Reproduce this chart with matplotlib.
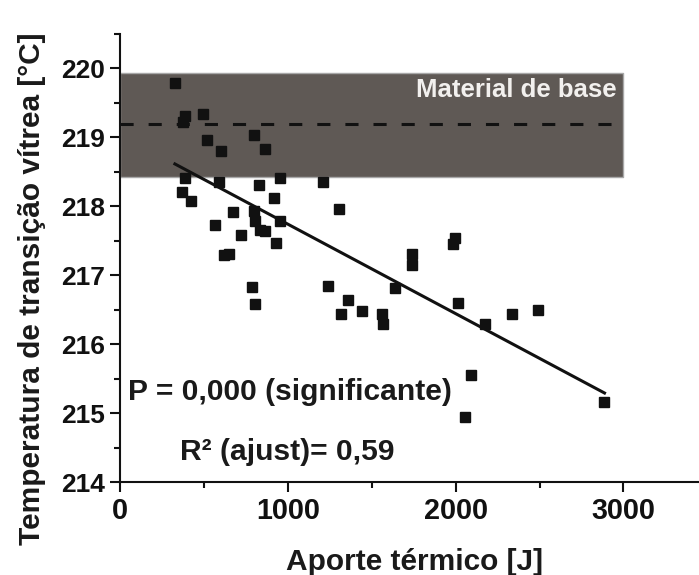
import matplotlib
matplotlib.use('Agg')
import matplotlib.pyplot as plt
from matplotlib.ticker import MultipleLocator

# data
aporte = [325, 387, 377, 496, 520, 599, 798, 865, 387, 589, 827, 954, 1210,
          371, 421, 919, 1306, 675, 800, 806, 956, 833, 861, 567, 722, 931,
          619, 650, 787, 804, 1242, 1317, 1357, 1444, 1559, 1569, 1641, 1742,
          1742, 1996, 1984, 2016, 2173, 2337, 2488, 2089, 2054, 2883]
tg = [219.78, 219.30, 219.22, 219.33, 218.95, 218.80, 219.03, 218.82, 218.40,
      218.35, 218.30, 218.41, 218.35, 218.21, 218.07, 218.12, 217.95, 217.91,
      217.93, 217.78, 217.78, 217.65, 217.64, 217.72, 217.58, 217.46, 217.29,
      217.30, 216.82, 216.58, 216.84, 216.43, 216.64, 216.48, 216.43, 216.29,
      216.81, 217.30, 217.15, 217.53, 217.45, 216.60, 216.29, 216.44, 216.50,
      215.55, 214.94, 215.16]

# regression line ends
fit_x = [327, 2887]
fit_y = [218.61, 215.29]

# base material band (min, mean, max) over the x range
base_x = [0, 3000]
base_min, base_mean, base_max = 218.42, 219.19, 219.93

plt.rcParams['font.family'] = ['Liberation Sans', 'DejaVu Sans']
plt.rcParams['font.weight'] = 'bold'

fig = plt.figure(figsize=(6.99, 5.75), dpi=100)
ax = fig.add_axes([0.1717, 0.1617, 0.8283, 0.78])

ax.spines['right'].set_color('none')
ax.spines['top'].set_color('none')
ax.spines['left'].set_linewidth(1.5)
ax.spines['bottom'].set_linewidth(1.5)
ax.spines['left'].set_color('#111111')
ax.spines['bottom'].set_color('#111111')

ax.fill_between(base_x, base_min, base_max, facecolor='#5f5955',
                edgecolor='#a8a8a8', linewidth=1.0, zorder=1)
ax.plot(base_x, [base_mean, base_mean], color='#111111', linestyle=(0, (4.3, 4.9)),
        linewidth=2.2, zorder=2)
ax.text(2960, 219.58, 'Material de base', color='#f2f0ee', fontsize=18.5,
        fontweight='bold', ha='right', va='baseline', zorder=3)

ax.plot(aporte, tg, linestyle='none', marker='s', markersize=7.5,
        color='#111111', zorder=4)
ax.plot(fit_x, fit_y, color='#111111', linewidth=2.2, zorder=4)

ax.text(48, 215.19, 'P = 0,000 (significante)', fontsize=21.6, color='#1a1a1a',
        fontweight='bold', va='baseline')
ax.text(357, 214.32, 'R² (ajust)= 0,59', fontsize=21.6, color='#1a1a1a',
        fontweight='bold', va='baseline')

ax.set_xlim(0, 3450)
ax.set_ylim(214, 220.5)
ax.xaxis.set_major_locator(MultipleLocator(1000))
ax.xaxis.set_minor_locator(MultipleLocator(500))
ax.yaxis.set_major_locator(MultipleLocator(1))
ax.yaxis.set_minor_locator(MultipleLocator(0.5))
ax.tick_params(which='major', direction='out', length=7, width=1.5,
               colors='#111111', pad=4)
ax.tick_params(axis='x', which='major', labelsize=20.7)
ax.tick_params(axis='y', which='major', labelsize=19)
ax.tick_params(which='minor', direction='out', length=4, width=1.5,
               colors='#111111')
for lab in ax.get_xticklabels() + ax.get_yticklabels():
    lab.set_fontweight('bold')

ax.set_xlabel('Aporte térmico [J]', fontsize=21.5, fontweight='bold',
              color='#1a1a1a')
ax.set_ylabel('Temperatura de transição vítrea [°C]', fontsize=21.5,
              fontweight='bold', color='#1a1a1a')
# label positions in axes fraction, as in the reference
ax.xaxis.set_label_coords(0.508, -0.148)
ax.yaxis.set_label_coords(-0.128, 0.43)

fig.savefig('out.png', dpi=100)
